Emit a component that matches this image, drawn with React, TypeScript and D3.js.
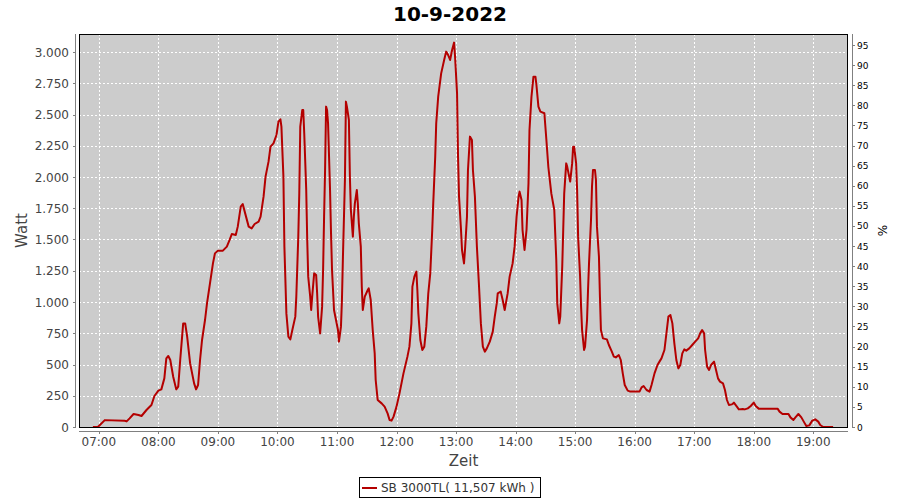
import React from "react"
import * as d3 from "d3"

// Aufzeichnung SB 3000TL, 10-9-2022 (Zeit, Watt)
const times = [
	"06:54", "06:59", "07:06", "07:26", "07:28", "07:31", "07:35", "07:40", "07:43", "07:48",
	"07:53", "07:56", "08:00", "08:03", "08:06", "08:08", "08:10", "08:12", "08:15", "08:18",
	"08:20", "08:22", "08:25", "08:27", "08:29", "08:32", "08:36", "08:38", "08:40", "08:42",
	"08:44", "08:47", "08:49", "08:52", "08:55", "08:57", "09:00", "09:05", "09:09", "09:12",
	"09:14", "09:18", "09:20", "09:23", "09:25", "09:27", "09:31", "09:34", "09:37", "09:41",
	"09:43", "09:46", "09:48", "09:51", "09:53", "09:56", "09:59", "10:01", "10:03", "10:04",
	"10:06", "10:07", "10:09", "10:11", "10:13", "10:15", "10:18", "10:19", "10:21", "10:22",
	"10:23", "10:25", "10:26", "10:27", "10:29", "10:30", "10:31", "10:33", "10:34", "10:35",
	"10:37", "10:39", "10:40", "10:41", "10:43", "10:45", "10:46", "10:47", "10:48", "10:49",
	"10:50", "10:51", "10:53", "10:54", "10:55", "10:57", "10:59", "11:01", "11:02", "11:04",
	"11:05", "11:06", "11:08", "11:09", "11:10", "11:12", "11:13", "11:14", "11:16", "11:17",
	"11:18", "11:20", "11:21", "11:22", "11:24", "11:25", "11:26", "11:28", "11:31", "11:32",
	"11:34", "11:36", "11:38", "11:39", "11:41", "11:45", "11:48", "11:51", "11:53", "11:55",
	"11:57", "12:00", "12:03", "12:07", "12:11", "12:13", "12:15", "12:16", "12:18", "12:20",
	"12:21", "12:22", "12:24", "12:26", "12:28", "12:30", "12:32", "12:34", "12:36", "12:37",
	"12:39", "12:40", "12:42", "12:45", "12:48", "12:50", "12:52", "12:54", "12:56", "12:58",
	"12:59", "13:01", "13:02", "13:03", "13:05", "13:06", "13:08", "13:09", "13:11", "13:12",
	"13:14", "13:16", "13:17", "13:19", "13:21", "13:23", "13:25", "13:27", "13:29", "13:31",
	"13:34", "13:37", "13:39", "13:41", "13:42", "13:45", "13:47", "13:49", "13:52", "13:54",
	"13:57", "13:59", "14:01", "14:03", "14:04", "14:06", "14:07", "14:09", "14:11", "14:13",
	"14:14", "14:16", "14:18", "14:20", "14:21", "14:23", "14:25", "14:29", "14:31", "14:33",
	"14:36", "14:39", "14:41", "14:42", "14:44", "14:45", "14:47", "14:48", "14:49", "14:51",
	"14:52", "14:54", "14:55", "14:57", "14:58", "14:59", "15:01", "15:02", "15:03", "15:05",
	"15:06", "15:07", "15:09", "15:10", "15:12", "15:13", "15:14", "15:16", "15:17", "15:18",
	"15:20", "15:21", "15:22", "15:24", "15:25", "15:26", "15:28", "15:32", "15:34", "15:37",
	"15:39", "15:41", "15:44", "15:46", "15:48", "15:50", "15:53", "15:55", "16:05", "16:07",
	"16:09", "16:12", "16:15", "16:17", "16:20", "16:23", "16:25", "16:27", "16:30", "16:32",
	"16:34", "16:36", "16:38", "16:40", "16:42", "16:44", "16:46", "16:48", "16:50", "16:52",
	"16:55", "16:58", "17:01", "17:04", "17:06", "17:08", "17:10", "17:11", "17:13", "17:15",
	"17:17", "17:20", "17:22", "17:24", "17:26", "17:29", "17:31", "17:33", "17:35", "17:38",
	"17:40", "17:43", "17:45", "17:49", "17:51", "17:54", "17:57", "18:00", "18:02", "18:05",
	"18:08", "18:24", "18:26", "18:29", "18:35", "18:37", "18:40", "18:42", "18:45", "18:48",
	"18:51", "18:53", "18:56", "18:59", "19:02", "19:05", "19:07", "19:10", "19:20",
]

const watts = [
	0, 0, 55, 50, 45, 69, 104, 96, 88, 136,
	176, 248, 291, 301, 389, 549, 568, 536, 400, 301,
	323, 536, 829, 829, 723, 509, 349, 301, 336, 536,
	696, 856, 989, 1149, 1309, 1389, 1411, 1411, 1443, 1501,
	1544, 1536, 1603, 1763, 1784, 1723, 1603, 1589, 1624, 1643,
	1683, 1843, 2003, 2123, 2243, 2269, 2336, 2443, 2461, 2403,
	2003, 1443, 909, 723, 701, 776, 883, 1043, 1523, 1869,
	2403, 2536, 2536, 2349, 1896, 1500, 1203, 1043, 936, 1043,
	1229, 1216, 1069, 880, 749, 963, 1256, 1683, 2056, 2563,
	2536, 2429, 1896, 1549, 1256, 936, 856, 776, 683, 803,
	1016, 1363, 1976, 2603, 2563, 2456, 2003, 1736, 1523, 1683,
	1789, 1896, 1789, 1629, 1443, 1123, 936, 1043, 1096, 1109,
	1016, 776, 589, 376, 216, 189, 163, 109, 56, 51,
	83, 163, 269, 429, 563, 643, 829, 1123, 1203, 1243,
	1096, 909, 696, 616, 643, 803, 1069, 1229, 1576, 1789,
	2163, 2429, 2643, 2829, 2936, 3003, 2976, 2936, 3016, 3075,
	2963, 2669, 2163, 1843, 1576, 1416, 1309, 1416, 1683, 2056,
	2323, 2296, 2056, 1843, 1443, 1149, 829, 643, 603, 629,
	683, 763, 883, 989, 1069, 1083, 1016, 936, 1069, 1203,
	1309, 1443, 1683, 1843, 1883, 1816, 1576, 1416, 1576, 1949,
	2376, 2643, 2803, 2803, 2736, 2563, 2523, 2510, 2300, 2080,
	1869, 1736, 1336, 989, 829, 883, 1283, 1576, 1869, 2109,
	2083, 2003, 1963, 2109, 2243, 2243, 2109, 1896, 1523, 1203,
	963, 776, 616, 643, 856, 1096, 1309, 1656, 1923, 2056,
	2056, 1976, 1603, 1363, 1043, 776, 709, 701, 656, 603,
	563, 557, 576, 536, 429, 336, 291, 285, 285, 317,
	328, 296, 283, 336, 429, 496, 523, 549, 616, 749,
	883, 896, 829, 669, 536, 469, 496, 589, 621, 611,
	629, 656, 683, 709, 749, 776, 749, 616, 483, 456,
	496, 523, 456, 389, 363, 349, 296, 216, 176, 181,
	195, 163, 141, 144, 141, 149, 168, 195, 168, 147,
	147, 147, 123, 104, 104, 77, 56, 77, 104, 77,
	35, 8, 13, 51, 61, 43, 16, 0, 0,
]

const wattTicks = [0, 250, 500, 750, 1000, 1250, 1500, 1750, 2000, 2250, 2500, 2750, 3000]
const percentTicks = [0, 5, 10, 15, 20, 25, 30, 35, 40, 45, 50, 55, 60, 65, 70, 75, 80, 85, 90, 95]
const hourTicks = ["07:00", "08:00", "09:00", "10:00", "11:00", "12:00", "13:00", "14:00", "15:00", "16:00", "17:00", "18:00", "19:00"]
const seriesName = "SB 3000TL( 11,507 kWh )"
const chartTitle = "10-9-2022"

const parseTime = d3.timeParse("%H:%M")
const fmtWatt = d3.formatLocale({ decimal: ",", thousands: ".", grouping: [3], currency: ["", ""] }).format(",d")

const W = 900
const H = 500
const plot = { left: 79, right: 848, top: 34, bottom: 427 }
const font = "'DejaVu Sans', sans-serif"

const App = () => {
	const x = d3.scaleTime()
		.domain([parseTime("06:40"), parseTime("19:35")])
		.range([plot.left, plot.right])
	const y = d3.scaleLinear().domain([0, 3144]).range([plot.bottom, plot.top])
	const yPct = d3.scaleLinear().domain([0, 97.76]).range([plot.bottom, plot.top])

	const points = times.map((t, i) => [x(parseTime(t)), y(watts[i])])
	const line = d3.line().curve(d3.curveLinear)(points)

	return (
		<svg width={W} height={H} style={{ position: "absolute", left: 0, top: 0, background: "#fff" }}>
			<text x={450} y={21} textAnchor="middle" fontFamily={font} fontWeight="bold" fontSize={20} fill="#000">
				{chartTitle}
			</text>

			{/* Plotbereich */}
			<rect x={plot.left} y={plot.top} width={plot.right - plot.left} height={plot.bottom - plot.top} fill="#cccccc" />
			<g stroke="#fff" strokeWidth={1} strokeDasharray="2,2" shapeRendering="crispEdges">
				{hourTicks.map(t => {
					const px = Math.round(x(parseTime(t))) + 0.5
					return <line key={t} x1={px} x2={px} y1={plot.top} y2={plot.bottom} />
				})}
				{wattTicks.map(v => {
					const py = Math.round(y(v)) + 0.5
					return <line key={v} x1={plot.left} x2={plot.right} y1={py} y2={py} />
				})}
			</g>
			<path d={line} fill="none" stroke="#b40000" strokeWidth={2} strokeLinejoin="round" />
			<rect x={plot.left + 0.5} y={plot.top + 0.5} width={plot.right - plot.left - 1} height={plot.bottom - plot.top}
				fill="none" stroke="#000" strokeWidth={1} shapeRendering="crispEdges" />

			{/* linke Achse */}
			<g shapeRendering="crispEdges" stroke="#808080">
				<line x1={75.5} x2={75.5} y1={plot.top} y2={plot.bottom + 1} />
				{wattTicks.map(v => {
					const py = Math.round(y(v)) + 0.5
					return <line key={v} x1={73} x2={75} y1={py} y2={py} />
				})}
			</g>
			<g fontFamily={font} fontSize={12} fill="#444" textAnchor="end">
				{wattTicks.map(v => (
					<text key={v} x={69} y={y(v) + 4.5}>{fmtWatt(v)}</text>
				))}
			</g>
			<text transform={`translate(27,${(plot.top + plot.bottom) / 2}) rotate(-90)`} textAnchor="middle"
				fontFamily={font} fontSize={15} fill="#444">Watt</text>

			{/* rechte Achse */}
			<g shapeRendering="crispEdges" stroke="#808080">
				<line x1={852.5} x2={852.5} y1={plot.top} y2={plot.bottom + 1} />
				{percentTicks.map(v => {
					const py = Math.round(yPct(v)) + 0.5
					return <line key={v} x1={853} x2={855} y1={py} y2={py} />
				})}
			</g>
			<g fontFamily={font} fontSize={9} fill="#000">
				{percentTicks.map(v => (
					<text key={v} x={857} y={yPct(v) + 3.5}>{v}</text>
				))}
			</g>
			<text transform={`translate(887,${(plot.top + plot.bottom) / 2}) rotate(-90)`} textAnchor="middle"
				fontFamily={font} fontSize={12} fill="#000">%</text>

			{/* Zeitachse */}
			<g shapeRendering="crispEdges" stroke="#808080">
				<line x1={plot.left} x2={plot.right} y1={431.5} y2={431.5} />
				{hourTicks.map(t => {
					const px = Math.round(x(parseTime(t))) + 0.5
					return <line key={t} x1={px} x2={px} y1={432} y2={434} />
				})}
			</g>
			<g fontFamily={font} fontSize={12} fill="#444" textAnchor="middle">
				{hourTicks.map(t => (
					<text key={t} x={x(parseTime(t))} y={446}>{t}</text>
				))}
			</g>
			<text x={(plot.left + plot.right) / 2} y={466} textAnchor="middle" fontFamily={font} fontSize={15} fill="#444">Zeit</text>

			{/* Legende */}
			<rect x={359.5} y={477.5} width={181} height={20} fill="#fff" stroke="#000" strokeWidth={1} shapeRendering="crispEdges" />
			<line x1={362} x2={377} y1={488} y2={488} stroke="#b40000" strokeWidth={2} />
			<text x={381} y={492} fontFamily={font} fontSize={12} fill="#333">{seriesName}</text>
		</svg>
	)
}

export default App
